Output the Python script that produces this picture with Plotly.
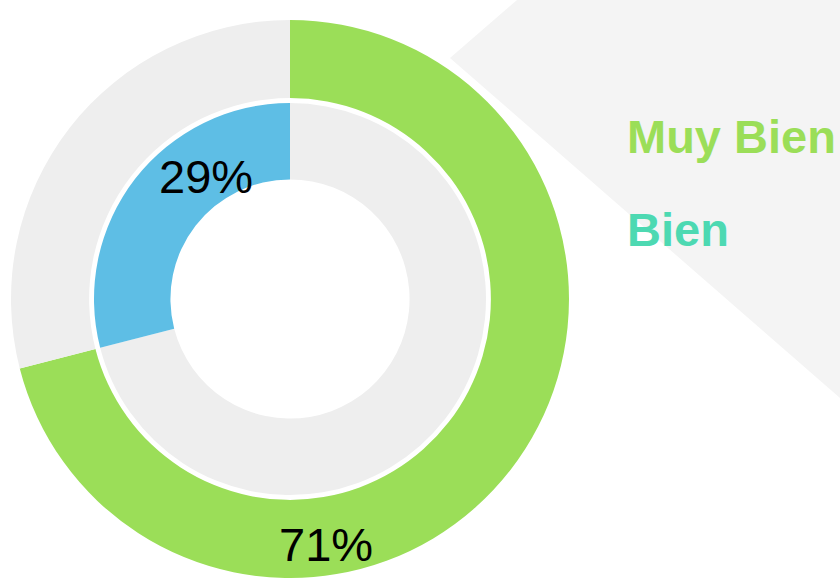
import plotly.graph_objects as go

# Data
categories = ["Muy Bien", "Bien"]
outer_values = [71, 29]   # Muy Bien, resto
inner_values = [71, 29]   # resto, Bien (drawn clockwise so Bien ends at 12 o'clock)

GREEN = "#9BDE58"
BLUE = "#5EBEE5"
TEAL = "#4DD9B2"
GRAY = "#EEEEEE"
BG = "#F4F4F4"

W, H = 840, 578

def px(x):
    return x / W

def py(y):
    return 1 - y / H

CX, CY = 290, 299   # centre in figure pixels (from top-left)
R_OUT, R_IN = 279, 196

fig = go.Figure()

# Outer ring
fig.add_trace(go.Pie(
    values=outer_values,
    labels=["Muy Bien", "Resto A"],
    marker=dict(colors=[GREEN, GRAY], line=dict(width=0)),
    hole=0.72,
    sort=False,
    direction="clockwise",
    rotation=0,
    textinfo="none",
    hoverinfo="label+percent",
    showlegend=False,
    domain=dict(x=[px(CX - R_OUT), px(CX + R_OUT)],
                y=[max(0, py(CY + R_OUT)), py(CY - R_OUT)]),
))

# Inner ring
fig.add_trace(go.Pie(
    values=inner_values,
    labels=["Resto B", "Bien"],
    marker=dict(colors=[GRAY, BLUE], line=dict(width=0)),
    hole=0.61,
    sort=False,
    direction="clockwise",
    rotation=0,
    textinfo="none",
    hoverinfo="label+percent",
    showlegend=False,
    domain=dict(x=[px(CX - R_IN), px(CX + R_IN)],
                y=[py(CY + R_IN), py(CY - R_IN)]),
))

# Background decorative shape
fig.add_shape(
    type="path",
    xref="paper", yref="paper",
    path=f"M {px(450)} {py(58)} L {px(517)} {py(0)} L {px(840)} {py(0)} L {px(840)} {py(398)} Z",
    fillcolor=BG, line=dict(width=0), layer="below",
)

FONT = "Liberation Sans, Arial, sans-serif"

annotations = [
    dict(x=px(206), y=py(177), text=f"{inner_values[1]}%", font=dict(size=47, color="black", family=FONT)),
    dict(x=px(326), y=py(544), text=f"{outer_values[0]}%", font=dict(size=47, color="black", family=FONT)),
    dict(x=px(625), y=py(136.5), text=f"<b>{categories[0]}</b>", xanchor="left",
         font=dict(size=47, color=GREEN, family=FONT)),
    dict(x=px(625), y=py(229.5), text=f"<b>{categories[1]}</b>", xanchor="left",
         font=dict(size=47, color=TEAL, family=FONT)),
]
for a in annotations:
    a.setdefault("xanchor", "center")
    a.update(xref="paper", yref="paper", yanchor="middle", showarrow=False)

fig.update_layout(
    width=W, height=H,
    margin=dict(l=0, r=0, t=0, b=0),
    paper_bgcolor="white",
    plot_bgcolor="white",
    annotations=annotations,
)

fig.write_html("out.html",
               config={"displayModeBar": False},
               post_script="document.body.style.margin='0';document.body.style.overflow='hidden';")
